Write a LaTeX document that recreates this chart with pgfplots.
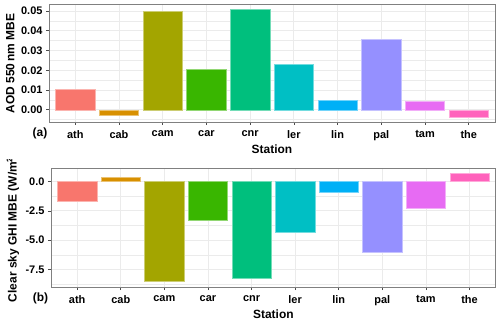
\documentclass[border=0pt]{standalone}
\usepackage{fontspec}
\setmainfont{Liberation Sans}
\usepackage{pgfplots}
\pgfplotsset{compat=1.18}

% ggplot hue palette, 10 stations
\definecolor{cath}{HTML}{F8766D}
\definecolor{ccab}{HTML}{D89000}
\definecolor{ccam}{HTML}{A3A500}
\definecolor{ccar}{HTML}{39B600}
\definecolor{ccnr}{HTML}{00BF7D}
\definecolor{cler}{HTML}{00BFC4}
\definecolor{clin}{HTML}{00B0F6}
\definecolor{cpal}{HTML}{9590FF}
\definecolor{ctam}{HTML}{E76BF3}
\definecolor{cthe}{HTML}{FF62BC}
\definecolor{gridc}{HTML}{EBEBEB}

\pgfplotsset{
  mbe/.style={
    scale only axis,
    xmin=0.4, xmax=10.6,
    xtick={1,...,10},
    xticklabels={ath,cab,cam,car,cnr,ler,lin,pal,tam,the},
    xtick pos=bottom, ytick pos=left,
    scaled y ticks=false,
    axis line style={black!50, line width=0.8bp},
    tick align=outside,
    major tick length=3bp, minor tick length=0pt,
    tick style={black!70, line width=0.6bp},
    xmajorgrids, ymajorgrids, yminorgrids,
    major grid style={color=gridc, line width=0.8bp},
    minor grid style={color=gridc, line width=0.4bp},
    ticklabel style={font=\fontsize{11}{13}\selectfont\bfseries, text=black},
    xticklabel style={yshift=-2bp},
    label style={font=\fontsize{12}{14}\selectfont\bfseries},
    xlabel={Station},
    xlabel style={yshift=3bp},
  },
  mbar/.style={ybar, bar width=0.9, bar shift=0pt, fill=#1, draw=#1!55!white, line width=0.5bp},
}

\begin{document}
\begin{tikzpicture}
\path[use as bounding box] (0,0) rectangle (500bp,321bp);

% (a) AOD
\begin{axis}[mbe,
  at={(49bp,199bp)}, anchor=south west,
  width=446bp, height=117.3bp,
  ymin=-0.0062, ymax=0.0532,
  ytick={0,0.01,0.02,0.03,0.04,0.05},
  yticklabels={0.00,0.01,0.02,0.03,0.04,0.05},
  minor ytick={-0.005,0.005,0.015,0.025,0.035,0.045},
  ylabel={AOD 550\,nm MBE},
  ylabel style={at={(axis description cs:-0.087,0.5)}, anchor=center},
]
\addplot[mbar=cath] coordinates {(1,0.0105)};
\addplot[mbar=ccab] coordinates {(2,-0.0029)};
\addplot[mbar=ccam] coordinates {(3,0.0500)};
\addplot[mbar=ccar] coordinates {(4,0.0206)};
\addplot[mbar=ccnr] coordinates {(5,0.0507)};
\addplot[mbar=cler] coordinates {(6,0.0231)};
\addplot[mbar=clin] coordinates {(7,0.0050)};
\addplot[mbar=cpal] coordinates {(8,0.0359)};
\addplot[mbar=ctam] coordinates {(9,0.0042)};
\addplot[mbar=cthe] coordinates {(10,-0.0040)};
\end{axis}
\node[font=\fontsize{12}{14}\selectfont\bfseries, anchor=base] at (40bp,184.5bp) {(a)};

% (b) clear sky GHI
\begin{scope}
\clip (0,0) rectangle (500bp,161bp);
\begin{axis}[mbe,
  at={(51bp,34bp)}, anchor=south west,
  width=444.7bp, height=118.7bp,
  ymin=-9.0, ymax=1.13,
  ytick={-7.5,-5,-2.5,0},
  yticklabels={-7.5,-5.0,-2.5,0.0},
  minor ytick={-8.75,-6.25,-3.75,-1.25},
  ylabel={Clear sky GHI MBE (W/m$^{\mathbf{2}}$)},
  ylabel style={at={(axis description cs:-0.0855,0.5)}, anchor=center},
]
\addplot[mbar=cath] coordinates {(1,-1.70)};
\addplot[mbar=ccab] coordinates {(2,0.39)};
\addplot[mbar=ccam] coordinates {(3,-8.55)};
\addplot[mbar=ccar] coordinates {(4,-3.29)};
\addplot[mbar=ccnr] coordinates {(5,-8.24)};
\addplot[mbar=cler] coordinates {(6,-4.30)};
\addplot[mbar=clin] coordinates {(7,-0.93)};
\addplot[mbar=cpal] coordinates {(8,-6.00)};
\addplot[mbar=ctam] coordinates {(9,-2.32)};
\addplot[mbar=cthe] coordinates {(10,0.68)};
\end{axis}
\end{scope}
\node[font=\fontsize{12}{14}\selectfont\bfseries, anchor=base] at (40.5bp,20bp) {(b)};
\end{tikzpicture}
\end{document}
